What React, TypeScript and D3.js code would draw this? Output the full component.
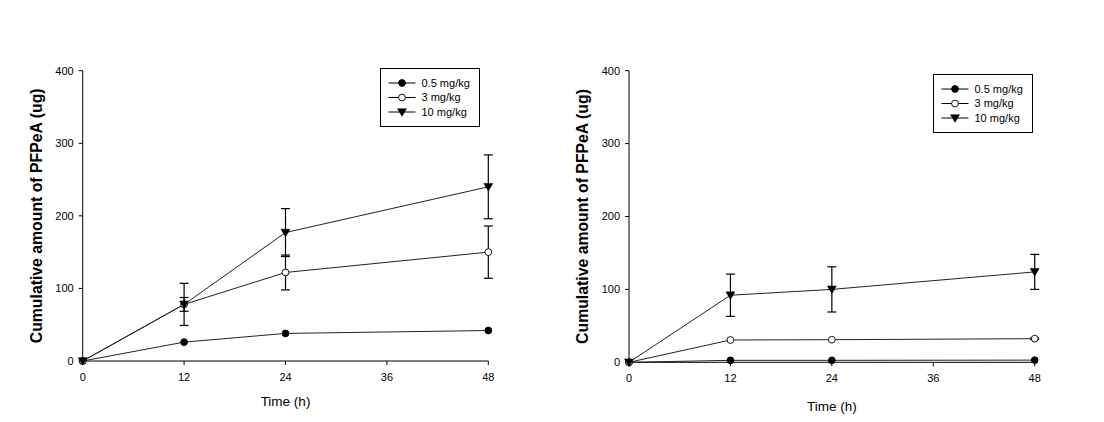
import React from "react";
import * as d3 from "d3";

const times = [0, 12, 24, 48];
const xTicks = [0, 12, 24, 36, 48];
const yTicks = [0, 100, 200, 300, 400];
const seriesNames = ["0.5 mg/kg", "3 mg/kg", "10 mg/kg"];
const seriesMarkers = ["filled", "open", "triangle"];

// Left panel
const leftLow = [0, 26, 38, 42];
const leftLowSd = [0, 0, 0, 0];
const leftMid = [0, 78, 122, 150];
const leftMidSd = [0, 9.5, 24, 36];
const leftHigh = [0, 78, 177, 240];
const leftHighSd = [0, 29, 33, 44];

// Right panel
const rightLow = [0, 2.7, 2.7, 3];
const rightLowSd = [0, 0, 0, 0];
const rightMid = [0, 30.6, 31, 32.4];
const rightMidSd = [0, 0, 0, 1];
const rightHigh = [0, 92, 100, 124];
const rightHighSd = [0, 29, 31, 24];

const yLabel = "Cumulative amount of PFPeA (ug)";
const xLabel = "Time (h)";

type PanelProps = {
  x0: number; x1: number; y0: number; y1: number;
  values: number[][]; sds: number[][];
  legendX: number; legendY: number;
  yLabelX: number; xLabelY: number;
};

function Marker({ kind, cx, cy }: { kind: string; cx: number; cy: number }) {
  if (kind === "triangle") {
    const s = 4.5;
    return <path d={`M${cx - s},${cy - s * 0.75}L${cx + s},${cy - s * 0.75}L${cx},${cy + s * 0.95}Z`} fill="#000" stroke="#000" strokeWidth={0.5} />;
  }
  return <circle cx={cx} cy={cy} r={3.4} fill={kind === "filled" ? "#000" : "#fff"} stroke="#000" strokeWidth={0.9} />;
}

function Panel(p: PanelProps) {
  const x = d3.scaleLinear().domain([0, 48]).range([p.x0, p.x1]);
  const y = d3.scaleLinear().domain([0, 400]).range([p.y0, p.y1]);
  const line = d3.line<number>().x((_, i) => x(times[i])).y((v) => y(v));
  const font = "Arial, 'Liberation Sans', sans-serif";
  return (
    <g fontFamily={font}>
      {/* axes */}
      <line x1={p.x0} x2={p.x0} y1={p.y0} y2={p.y1} stroke="#000" strokeWidth={1} />
      <line x1={p.x0} x2={p.x1} y1={p.y0} y2={p.y0} stroke="#000" strokeWidth={1} />
      {yTicks.map((t) => (
        <g key={"y" + t}>
          <line x1={p.x0 - 4} x2={p.x0} y1={y(t)} y2={y(t)} stroke="#000" />
          <text x={p.x0 - 9} y={y(t)} dy="0.35em" textAnchor="end" fontSize={11}>{t}</text>
        </g>
      ))}
      {xTicks.map((t) => (
        <g key={"x" + t}>
          <line x1={x(t)} x2={x(t)} y1={p.y0} y2={p.y0 + 4} stroke="#000" />
          <text x={x(t)} y={p.y0 + 20} textAnchor="middle" fontSize={11}>{t}</text>
        </g>
      ))}
      <text transform={`translate(${p.yLabelX},${(p.y0 + p.y1) / 2}) rotate(-90)`} textAnchor="middle" fontSize={15.8} fontWeight="bold">{yLabel}</text>
      <text x={(p.x0 + p.x1) / 2} y={p.xLabelY} textAnchor="middle" fontSize={13.5}>{xLabel}</text>
      {/* lines */}
      {p.values.map((vals, si) => (
        <path key={"l" + si} d={line(vals) || ""} fill="none" stroke="#222" strokeWidth={1} />
      ))}
      {/* error bars */}
      {p.values.map((vals, si) =>
        vals.map((v, i) => {
          const sd = p.sds[si][i];
          if (!sd) return null;
          const cx = x(times[i]);
          const top = y(v + sd);
          const bot = y(v - sd);
          return (
            <g key={"e" + si + "-" + i} stroke="#000" strokeWidth={1.2}>
              <line x1={cx} x2={cx} y1={top} y2={bot} />
              <line x1={cx - 4.5} x2={cx + 4.5} y1={top} y2={top} />
              <line x1={cx - 4.5} x2={cx + 4.5} y1={bot} y2={bot} />
            </g>
          );
        })
      )}
      {/* markers */}
      {p.values.map((vals, si) =>
        vals.map((v, i) => <Marker key={"m" + si + "-" + i} kind={seriesMarkers[si]} cx={x(times[i])} cy={y(v)} />)
      )}
      {/* legend */}
      <rect x={p.legendX} y={p.legendY} width={99} height={58} fill="#fff" stroke="#000" strokeWidth={1} />
      {seriesNames.map((n, i) => {
        const ly = p.legendY + 14.5 + i * 14.5;
        return (
          <g key={"lg" + i}>
            <line x1={p.legendX + 8} x2={p.legendX + 35} y1={ly} y2={ly} stroke="#000" />
            <Marker kind={seriesMarkers[i]} cx={p.legendX + 21.5} cy={ly} />
            <text x={p.legendX + 41} y={ly} dy="0.35em" fontSize={11}>{n}</text>
          </g>
        );
      })}
    </g>
  );
}

export default function App() {
  return (
    <svg width={1104} height={422} style={{ display: "block", position: "absolute", left: 0, top: 0 }}>
      <rect width={1104} height={422} fill="#fff" />
      <Panel x0={82.7} x1={488.3} y0={361} y1={70.7}
        values={[leftLow, leftMid, leftHigh]} sds={[leftLowSd, leftMidSd, leftHighSd]}
        legendX={380.5} legendY={68.5} yLabelX={41.5} xLabelY={406} />
      <Panel x0={629} x1={1034.7} y0={362.3} y1={70.7}
        values={[rightLow, rightMid, rightHigh]} sds={[rightLowSd, rightMidSd, rightHighSd]}
        legendX={933.5} legendY={74.5} yLabelX={587.5} xLabelY={411} />
    </svg>
  );
}
